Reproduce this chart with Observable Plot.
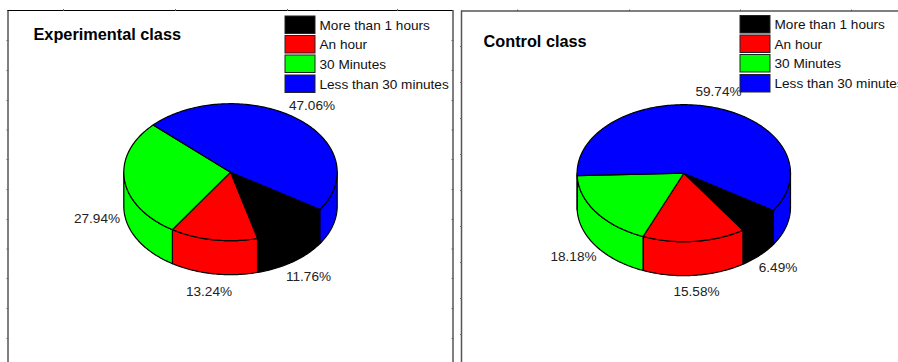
<!DOCTYPE html>
<html>
<head>
<meta charset="utf-8">
<script src="https://cdn.jsdelivr.net/npm/d3@7"></script>
<script src="https://cdn.jsdelivr.net/npm/@observablehq/plot@0.6"></script>
<style>
  html, body { margin: 0; padding: 0; background: #fff; overflow: hidden; }
  svg { display: block; }
</style>
</head>
<body>
<div id="chart"></div>
<script>
// Share of students per study-time category, one series per class.
const categories = ["More than 1 hours", "An hour", "30 Minutes", "Less than 30 minutes"];
const swatchColors = ["#000000", "#ff0000", "#00ff00", "#0000ff"];
const experimentalValues = [11.76, 13.24, 27.94, 47.06];
const controlValues = [6.49, 15.58, 18.18, 59.74];

// Page layout: one panel per class on a pixel-sized coordinate system.
const panels = [
  {
    title: "Experimental class", values: experimentalValues,
    cx: 230, cy: 171.7, titleX: 33, titleY: 34.5,
    legendX: 285, legendYs: [16, 35.5, 55, 75],
    labelAt: [[308, 276], [208.5, 291], [96.5, 218], [311.5, 105]],
    frame: {left: 7.5, right: 452.5, top: 10, stroke: "#000", width: 1},
    sideTicks: [40, 70, 100, 129.5, 159, 189, 219, 248.5, 278, 308, 338],
    topTicks: [63, 175, 287, 397]
  },
  {
    title: "Control class", values: controlValues,
    cx: 683.3, cy: 172.7, titleX: 483, titleY: 41.5,
    legendX: 740, legendYs: [15.5, 35, 54.5, 74.5],
    labelAt: [[777.5, 267], [696, 291], [573, 256], [718, 91]],
    frame: {left: 461, right: null, top: 10.5, stroke: "#555", width: 1.5},
    sideTicks: [46, 82, 118, 154, 190, 226, 262, 298, 334],
    topTicks: [517, 629, 740, 851]
  }
];

const rx = 106.7, ry = 68.5, depth = 34, startAngle = 33;
const rad = d => d * Math.PI / 180;
const onRim = (p, deg, drop) => ({
  x: p.cx + rx * Math.cos(rad(deg)),
  y: p.cy + drop + ry * Math.sin(rad(deg))
});
const arcAngles = (a, b) => {
  const n = Math.max(2, Math.ceil(b - a));
  return d3.range(n + 1).map(i => a + (b - a) * i / n);
};

// Build the polygons of each disc: front walls underneath, top faces above.
const walls = [], faces = [];
panels.forEach((p, pi) => {
  let a = startAngle;
  p.values.forEach((v, i) => {
    const b = a + v * 3.6;
    const key = `${pi}-${i}`;
    faces.push(
      {x: p.cx, y: p.cy, key, category: categories[i]},
      ...arcAngles(a, b).map(t => ({...onRim(p, t, 0), key, category: categories[i]}))
    );
    // Only the parts of the rim facing the viewer (0-180 degrees, mod 360) get a wall.
    [[0, 180], [360, 540]].forEach(([lo, hi], w) => {
      const s = Math.max(a, lo), e = Math.min(b, hi);
      if (e <= s) return;
      const wk = `${key}-${w}`;
      const ts = arcAngles(s, e);
      walls.push(
        ...ts.map(t => ({...onRim(p, t, 0), key: wk, category: categories[i]})),
        ...ts.slice().reverse().map(t => ({...onRim(p, t, depth), key: wk, category: categories[i]}))
      );
    });
    a = b;
  });
});

const legendRows = panels.flatMap(p => categories.map((c, i) => ({
  category: c, x1: p.legendX, x2: p.legendX + 30,
  y1: p.legendYs[i], y2: p.legendYs[i] + 17.5
})));
const valueLabels = panels.flatMap(p => p.values.map((v, i) => ({
  text: d3.format(".2f")(v) + "%", x: p.labelAt[i][0], y: p.labelAt[i][1]
})));
const W = 898, H = 362;

const frameMarks = panels.flatMap(p => {
  const f = p.frame;
  const opts = {stroke: f.stroke, strokeWidth: f.width};
  const tick = {stroke: "#666", strokeWidth: 1};
  return [
    Plot.ruleX([f.left], {y1: f.top, y2: H, ...opts}),
    ...(f.right ? [Plot.ruleX([f.right], {y1: f.top, y2: H, ...opts})] : []),
    Plot.ruleY([f.top], {x1: f.left, x2: f.right ?? W, ...opts}),
    Plot.ruleY(p.sideTicks, {x1: f.left - 1, x2: f.left + 1, ...tick}),
    ...(f.right ? [Plot.ruleY(p.sideTicks, {x1: f.right - 1, x2: f.right + 1, ...tick})] : []),
    Plot.ruleX(p.topTicks, {y1: f.top - 1, y2: f.top + 1, ...tick})
  ];
});

const chart = Plot.plot({
  width: W, height: H, margin: 0,
  x: {domain: [0, W], range: [0, W], axis: null},
  y: {domain: [0, H], range: [0, H], axis: null},
  color: {domain: categories, range: swatchColors},
  style: {fontFamily: '"Liberation Sans", Arial, sans-serif', background: "#fff"},
  marks: [
    ...frameMarks,
    Plot.line(walls, {x: "x", y: "y", z: "key", fill: "category", stroke: "#000",
      strokeWidth: 1.2, curve: "linear-closed"}),
    Plot.line(faces, {x: "x", y: "y", z: "key", fill: "category", stroke: "#000",
      strokeWidth: 1.2, curve: "linear-closed"}),
    Plot.rect(legendRows, {x1: "x1", x2: "x2", y1: "y1", y2: "y2", fill: "category",
      stroke: "#222", strokeWidth: 1}),
    Plot.text(legendRows, {x: d => d.x2 + 4, y: d => (d.y1 + d.y2) / 2, text: "category",
      textAnchor: "start", fontSize: 13.6, fill: "#111"}),
    Plot.text(valueLabels, {x: "x", y: "y", text: "text", fontSize: 13.6, fill: "#222"}),
    Plot.text(panels, {x: "titleX", y: "titleY", text: "title", textAnchor: "start",
      fontSize: 16.3, fontWeight: "bold", fill: "#000"})
  ]
});
document.getElementById("chart").append(chart);
</script>
</body>
</html>
